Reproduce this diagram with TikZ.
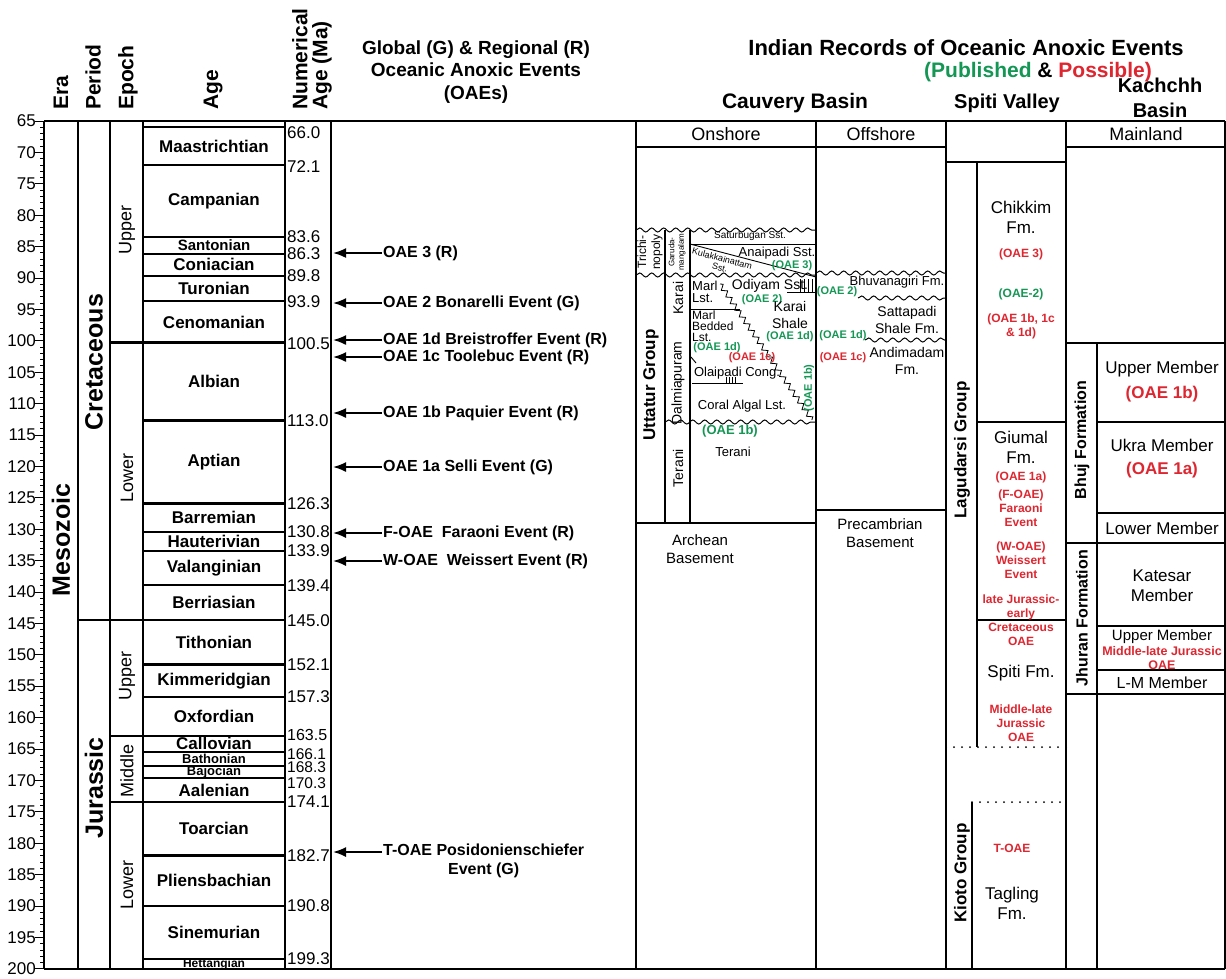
\documentclass[tikz,border=0pt]{standalone}
\usepackage{fontspec}
\setmainfont{Liberation Sans}
\usetikzlibrary{arrows.meta,decorations.pathmorphing}
\definecolor{pubgreen}{RGB}{20,150,85}
\definecolor{posred}{RGB}{222,38,48}
\newcommand{\fsz}[1]{\fontsize{#1}{\fpeval{round(1.18*#1,1)}}\selectfont}

\begin{document}
\begin{tikzpicture}[x=1pt, y=-1pt, >=Latex,
    colline/.style={line width=1.4pt},
    bnd/.style={line width=2.2pt},
    thinline/.style={line width=0.9pt},
    wavy/.style={line width=1pt, decorate, decoration={snake, amplitude=2pt, segment length=12pt}},
    zig/.style={line width=0.8pt, decorate, decoration={zigzag, amplitude=2.5pt, segment length=8pt}},
    dots/.style={line width=2pt, line cap=round, dash pattern=on 0pt off 8pt},
    hdr/.style={font=\bfseries\fsz{#1}, inner sep=0pt, align=center},
    colhdr/.style={font=\bfseries\fontsize{21}{20}\selectfont, rotate=90, anchor=west, inner sep=0pt, align=left},
    era/.style={font=\bfseries\fsz{25}, rotate=90, inner sep=0pt},
    epoch/.style={font=\fsz{18}, rotate=90, inner sep=0pt},
    agename/.style={font=\bfseries\fsz{#1}, inner sep=0pt},
    numage/.style={font=\fsz{#1}, anchor=west, inner sep=0pt},
    oae/.style={font=\bfseries\fsz{16}, anchor=west, inner sep=1pt, align=center},
    oaearrow/.style={line width=1.8pt, -{Latex[length=13pt,width=10pt]}},
    fm/.style={font=\fsz{#1}, align=center, inner sep=0pt},
    grp/.style={font=\bfseries\fsz{17}, rotate=90, inner sep=0pt},
    grnlbl/.style={text=pubgreen, font=\bfseries\fsz{#1}, inner sep=0pt, align=center},
    redlbl/.style={text=posred, font=\bfseries\fsz{#1}, inner sep=0pt, align=center}]
  \useasboundingbox (0,0) rectangle (1226,978);

  \node[colhdr] (h-era) at (61,110) {Era};
  \node[colhdr] (h-period) at (93,110) {Period};
  \node[colhdr] (h-epoch) at (128,110) {Epoch};
  \node[colhdr] (h-age) at (213,110) {Age};
  \node[colhdr] (h-num) at (312,110) {Numerical\\Age (Ma)};
  \node[hdr=19] (glob) at (476,72) {Global (G) \& Regional (R)\\Oceanic Anoxic Events\\(OAEs)};
  \node[hdr=22] (indian) at (966,48) {Indian Records of Oceanic Anoxic Events};
  \node[hdr=21] (pubpos) at (1038,72) {\textcolor{pubgreen}{(Published} \& \textcolor{posred}{Possible)}};
  \node[hdr=21] (cauvery) at (795,103) {Cauvery Basin};
  \node[hdr=20] (spiti) at (1007,103) {Spiti Valley};
  \node[font=\bfseries\fontsize{20}{25}\selectfont, inner sep=0pt, align=center] (kachchh) at (1160,98) {Kachchh\\Basin};

  \foreach \t in {65,...,200}
    \draw[thinline] (44,{121+(\t-65)*6.28}) -- ++(-4,0);
  \foreach \t in {65,70,...,200} {
    \draw[thinline] (44,{121+(\t-65)*6.28}) -- ++(-9,0);
    \node[font=\fsz{17}, anchor=east, inner sep=0pt] (tk\t) at (36,{121+(\t-65)*6.28}) {\t};
  }

  \foreach \x in {44,78,110,143,285,331,636,816,946,1066,1225}
    \draw[colline] (\x,121) -- (\x,969);
  \draw[colline] (44,121) -- (1225,121);
  \draw[colline] (44,969) -- (1225,969);

  \foreach \a/\dy/\s [count=\i] in {66.0/5/17, 72.1/1/17, 83.6/0/17, 86.3/0/17, 89.8/0/17, 93.9/0/17,
      100.5/1/17, 113.0/0/17, 126.3/0/17, 130.8/0/17, 133.9/0/17, 139.4/0/17, 145.0/0/17,
      152.1/0/17, 157.3/0/17, 163.5/-1/16, 166.1/2/15.5, 168.3/2/15.5, 170.3/5/15.5, 174.1/0/17,
      182.7/0/17, 190.8/0/17, 199.3/0/17} {
    \draw[bnd] (143,{121+(\a-65)*6.24}) -- (285,{121+(\a-65)*6.24});
    \node[numage=\s] (num\i) at (287,{121+(\a-65)*6.24+\dy}) {\a};
  }
  \foreach \a in {100.5,163.5,174.1}
    \draw[bnd] (110,{121+(\a-65)*6.24}) -- (143,{121+(\a-65)*6.24});
  \draw[bnd] (78,{121+80*6.24}) -- (143,{121+80*6.24});

  \foreach \lo/\hi/\nm/\s [count=\i] in {66.0/72.1/Maastrichtian/17, 72.1/83.6/Campanian/17,
      83.6/86.3/Santonian/15, 86.3/89.8/Coniacian/17, 89.8/93.9/Turonian/17, 93.9/100.5/Cenomanian/17,
      100.5/113.0/Albian/17, 113.0/126.3/Aptian/17, 126.3/130.8/Barremian/17, 130.8/133.9/Hauterivian/17,
      133.9/139.4/Valanginian/17, 139.4/145.0/Berriasian/17, 145.0/152.1/Tithonian/17,
      152.1/157.3/Kimmeridgian/17, 157.3/163.5/Oxfordian/17, 163.5/166.1/Callovian/17,
      166.1/168.3/Bathonian/13, 168.3/170.3/Bajocian/13, 170.3/174.1/Aalenian/17,
      174.1/182.7/Toarcian/17, 182.7/190.8/Pliensbachian/17, 190.8/199.3/Sinemurian/17,
      199.3/200.9/Hettangian/12}
    \node[agename=\s] (age\i) at (214,{121+((\lo+\hi)/2-65)*6.24}) {\nm};

  \node[era] (mesozoic) at (61,540) {Mesozoic};
  \node[era] (cretaceous) at (94,362) {Cretaceous};
  \node[era] (jurassic) at (94,788) {Jurassic};
  \node[epoch] (k-up) at (127,230) {Upper};
  \node[epoch] (k-low) at (127,478) {Lower};
  \node[epoch] (j-up) at (127,676) {Upper};
  \node[epoch] (j-mid) at (127,771) {Middle};
  \node[epoch] (j-low) at (127,885) {Lower};

  \coordinate (oaeL) at (333,0);
  \node[oae] (oae3) at (382,253) {OAE 3 (R)};
  \node[oae] (oae2) at (382,303) {OAE 2 Bonarelli Event (G)};
  \node[oae] (oae1d) at (382,340) {OAE 1d Breistroffer Event (R)};
  \node[oae] (oae1c) at (382,357) {OAE 1c Toolebuc Event (R)};
  \node[oae] (oae1b) at (382,413) {OAE 1b Paquier Event (R)};
  \node[oae] (oae1a) at (382,467) {OAE 1a Selli Event (G)};
  \node[oae] (foae) at (382,533) {F-OAE\ \ Faraoni Event (R)};
  \node[oae] (woae) at (382,561) {W-OAE\ \ Weissert Event (R)};
  \node[oae, anchor=north west] (toae) at (382,843) {T-OAE Posidonienschiefer\\Event (G)};
  \foreach \n in {oae3,oae2,oae1d,oae1c,oae1b,oae1a,foae,woae}
    \draw[oaearrow] (\n.west) -- (\n.west -| oaeL);
  \draw[oaearrow] ([yshift=-9pt]toae.north west) -- ([yshift=-9pt]toae.north west -| oaeL);

  \draw[colline] (636,147) -- (946,147);
  \draw[colline] (1066,147) -- (1225,147);
  \draw[colline] (946,162) -- (1066,162);
  \node[fm=18] (onshore) at (726,134) {Onshore};
  \node[fm=18] (offshore) at (881,134) {Offshore};
  \node[fm=18] (mainland) at (1146,134) {Mainland};

  \draw[wavy] (636,230) -- (816,230);
  \draw[thinline] (690,244) -- (816,244);
  \draw[thinline] (690,244) -- (816,277);
  \draw[wavy] (636,275) -- (816,275);
  \draw[colline] (665,230) -- (665,523);
  \draw[colline] (690,230) -- (690,523);
  \draw[wavy] (665,422) -- (816,422);
  \draw[thinline] (690,309) -- (740,309);
  \draw[thinline] (787,292) -- (816,292);
  \foreach \x in {800,804,808,812}
    \draw[thinline] (\x,279) -- (\x,292);
  \draw[thinline] (692,383) -- (743,383);
  \foreach \x in {726,729,732,735}
    \draw[thinline] (\x,377) -- (\x,383);
  \draw[thinline] (691,357) -- (696,363);
  \draw[zig] (720,284) -- (812,420);
  \draw[colline] (636,523) -- (816,523);

  \node[font=\fsz{12}, rotate=90, align=center, inner sep=0pt] (trichi) at (650,252) {Trichi-\\nopoly};
  \node[font=\fsz{8}, rotate=90, align=center, inner sep=0pt] (garuda) at (677,252) {Garuda-\\mangalam};
  \node[grp] (uttatur) at (651,385) {Uttatur Group};
  \node[font=\fsz{14}, rotate=90, inner sep=0pt] (karai-r) at (678,298) {Karai};
  \node[font=\fsz{14}, rotate=90, inner sep=0pt] (dalmia) at (678,383) {Dalmiapuram};
  \node[font=\fsz{14}, rotate=90, inner sep=0pt] (terani-r) at (678,468) {Terani};
  \node[fm=10] (satur) at (750,236) {Saturbugan Sst.};
  \node[fm=13] (anai) at (777,253) {Anaipadi Sst.};
  \node[grnlbl=11] (on-oae3) at (792,266) {(OAE 3)};
  \node[font=\fontsize{9}{9}\selectfont, align=center, inner sep=0pt, rotate=-15] (kulak) at (721,263) {Kulakkainattam\\Sst.};
  \node[fm=14] (odiyam) at (770,286) {Odiyam Sst.};
  \node[font=\fontsize{13}{12}\selectfont, align=left, anchor=west, inner sep=0pt] (marl1) at (692,292) {Marl\\Lst.};
  \node[grnlbl=11] (on-oae2) at (762,300) {(OAE 2)};
  \node[fm=14] (karaish) at (790,315) {Karai\\Shale};
  \node[font=\fontsize{12}{11}\selectfont, align=left, anchor=west, inner sep=0pt] (marl2) at (692,326) {Marl\\Bedded\\Lst.};
  \node[grnlbl=11] (on-oae1d-r) at (790,337) {(OAE 1d)};
  \node[grnlbl=11] (on-oae1d-l) at (717,348) {(OAE 1d)};
  \node[redlbl=11] (on-oae1c) at (752,358) {(OAE 1c)};
  \node[fm=13] (olai) at (737,373) {Olaipadi Cong.};
  \node[fm=13] (coral) at (742,406) {Coral Algal Lst.};
  \node[grnlbl=11, rotate=90] (on-oae1b-v) at (809,388) {(OAE 1b)};
  \node[grnlbl=13] (on-oae1b) at (730,431) {(OAE 1b)};
  \node[fm=13] (terani) at (733,452) {Terani};
  \node[fm=15] (archean) at (700,549) {Archean\\Basement};

  \draw[wavy] (816,273) -- (946,273);
  \draw[wavy] (858,298) -- (946,298);
  \draw[wavy] (865,340) -- (946,340);
  \draw[colline] (816,510) -- (946,510);
  \node[fm=13] (bhuvana) at (897,282) {Bhuvanagiri Fm.};
  \node[grnlbl=11] (off-oae2) at (837,292) {(OAE 2)};
  \node[fm=14] (sattapadi) at (907,320) {Sattapadi\\Shale Fm.};
  \node[grnlbl=11] (off-oae1d) at (843,336) {(OAE 1d)};
  \node[redlbl=11] (off-oae1c) at (843,358) {(OAE 1c)};
  \node[fm=14] (andimadam) at (907,361) {Andimadam\\Fm.};
  \node[fm=15] (precamb) at (880,533) {Precambrian\\Basement};

  \draw[colline] (977,162) -- (977,747);
  \draw[colline] (977,422) -- (1066,422);
  \draw[colline] (977,620) -- (1066,620);
  \draw[dots] (946,747) -- (1066,747);
  \draw[colline] (972,802) -- (972,969);
  \draw[dots] (972,802) -- (1066,802);
  \node[grp] (lagudarsi) at (962,450) {Lagudarsi Group};
  \node[grp] (kioto) at (962,873) {Kioto Group};
  \node[fm=17] (chikkim) at (1021,217) {Chikkim\\Fm.};
  \node[redlbl=12] (sp-oae3) at (1021,254) {(OAE 3)};
  \node[grnlbl=12] (sp-oae2) at (1021,294) {(OAE-2)};
  \node[redlbl=12] (sp-oae1) at (1021,326) {(OAE 1b, 1c\\\& 1d)};
  \node[fm=17] (giumal) at (1021,447) {Giumal\\Fm.};
  \node[redlbl=12] (sp-oae1a) at (1021,477) {(OAE 1a)};
  \node[redlbl=12] (sp-foae) at (1021,508) {(F-OAE)\\Faraoni\\Event};
  \node[redlbl=12] (sp-woae) at (1021,560) {(W-OAE)\\Weissert\\Event};
  \node[redlbl=12] (sp-ljec) at (1021,620) {late Jurassic-\\early\\Cretaceous\\OAE};
  \node[fm=17] (spitifm) at (1021,673) {Spiti Fm.};
  \node[redlbl=12] (sp-mlj) at (1021,723) {Middle-late\\Jurassic\\OAE};
  \node[redlbl=12] (sp-toae) at (1012,848) {T-OAE};
  \node[fm=17] (tagling) at (1012,903) {Tagling\\Fm.};

  \draw[colline] (1097,343) -- (1097,969);
  \foreach \y in {343,543,694}
    \draw[colline] (1066,\y) -- (1225,\y);
  \foreach \y in {422,513,626,670}
    \draw[colline] (1097,\y) -- (1225,\y);
  \node[grp, font=\bfseries\fsz{16}] (bhuj) at (1082,440) {Bhuj Formation};
  \node[grp, font=\bfseries\fsz{16}] (jhuran) at (1082,618) {Jhuran Formation};
  \node[fm=17] (k-upper) at (1162,369) {Upper Member};
  \node[redlbl=17] (k-oae1b) at (1162,394) {(OAE 1b)};
  \node[fm=17] (ukra) at (1162,445) {Ukra Member};
  \node[redlbl=17] (k-oae1a) at (1162,470) {(OAE 1a)};
  \node[fm=17] (k-lower) at (1162,528) {Lower Member};
  \node[fm=17] (katesar) at (1162,586) {Katesar\\Member};
  \node[fm=15] (k-upper2) at (1162,637) {Upper Member};
  \node[redlbl=12.5] (k-mlj) at (1162,658) {Middle-late Jurassic\\OAE};
  \node[fm=16] (lm) at (1162,683) {L-M Member};
\end{tikzpicture}
\end{document}
